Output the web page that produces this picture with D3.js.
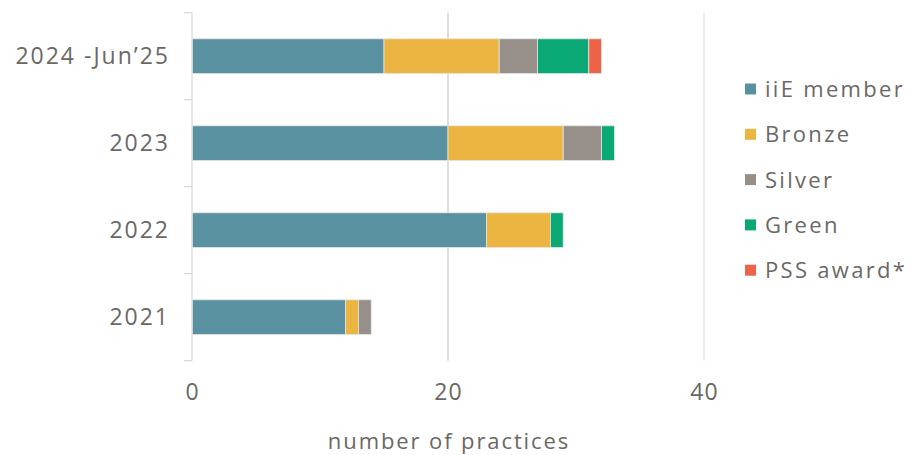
<!DOCTYPE html>
<html>
<head>
<meta charset="utf-8">
<script src="https://cdn.jsdelivr.net/npm/d3@7"></script>
<style>
  body { margin: 0; background: #fff; }
  #chart { width: 910px; height: 455px; }
  text { font-family: "Open Sans", sans-serif; fill: #6b6864; }
</style>
</head>
<body>
<div id="chart"></div>
<script>
(function () {
  var categories = ['2024 -Jun\u201925', '2023', '2022', '2021'];
  var seriesNames = ['iiE member', 'Bronze', 'Silver', 'Green', 'PSS award*'];
  var iieMember = [15, 20, 23, 12];
  var bronze = [9, 9, 5, 1];
  var silver = [3, 3, 0, 1];
  var green = [4, 1, 1, 0];
  var pssAward = [1, 0, 0, 0];
  var colors = ['#5a91a1', '#ecb441', '#978f89', '#0aa874', '#ed6347'];
  var xTicks = [0, 20, 40];

  var width = 910, height = 455;
  var left = 192, top = 12.7, plotBottom = 360.7;

  var rows = categories.map(function (c, i) {
    return { cat: c, 'iiE member': iieMember[i], 'Bronze': bronze[i], 'Silver': silver[i],
             'Green': green[i], 'PSS award*': pssAward[i] };
  });

  var stacked = d3.stack().keys(seriesNames)(rows);

  var svg = d3.select('#chart').append('svg')
        .attr('width', width)
        .attr('height', height);

  var x = d3.scaleLinear().domain([0, 40]).range([left, 704]);
  var y = d3.scaleBand().domain(categories).range([top, plotBottom])
        .paddingInner(0.6).paddingOuter(0.3);
  var color = d3.scaleOrdinal().domain(seriesNames).range(colors);

  // gridlines
  svg.append('g').selectAll('line')
    .data(xTicks.filter(function (d) { return d > 0; }))
    .enter().append('line')
    .attr('x1', x).attr('x2', x)
    .attr('y1', top).attr('y2', plotBottom)
    .attr('stroke', function (d) { return d === 20 ? '#d4d4d4' : '#e4e4e4'; })
    .attr('stroke-width', 1.5);

  // bars
  svg.append('g').selectAll('g')
    .data(stacked)
    .enter().append('g')
    .attr('fill', function (d) { return color(d.key); })
    .selectAll('rect')
    .data(function (d) { return d.filter(function (p) { return p[1] > p[0]; }); })
    .enter().append('rect')
    .attr('x', function (d) { return x(d[0]); })
    .attr('width', function (d) { return x(d[1]) - x(d[0]); })
    .attr('y', function (d) { return y(d.data.cat); })
    .attr('height', y.bandwidth())
    .attr('stroke', '#e6e6e6')
    .attr('stroke-width', 0.8);

  // y axis with ticks at band boundaries
  var yAxis = svg.append('g');
  yAxis.append('line')
    .attr('x1', left).attr('x2', left)
    .attr('y1', top).attr('y2', plotBottom)
    .attr('stroke', '#e0e0e0').attr('stroke-width', 1.5);
  var bounds = d3.range(categories.length + 1).map(function (i) {
    return top + i * y.step();
  });
  yAxis.selectAll('.tk').data(bounds).enter().append('line')
    .attr('class', 'tk')
    .attr('x1', left - 8).attr('x2', left)
    .attr('y1', function (d) { return d; }).attr('y2', function (d) { return d; })
    .attr('stroke', '#cfcfcf').attr('stroke-width', 1);
  yAxis.selectAll('text').data(categories).enter().append('text')
    .attr('x', 168 + 2)
    .attr('y', function (d) { return y(d) + y.bandwidth() / 2; })
    .attr('dy', '0.36em')
    .attr('text-anchor', 'end')
    .style('font-size', '23px')
    .style('letter-spacing', '2px')
    .text(function (d) { return d; });

  // x tick labels
  svg.append('g').selectAll('text').data(xTicks).enter().append('text')
    .attr('x', function (d) { return x(d) + 0.6; })
    .attr('y', 392)
    .attr('dy', '0.36em')
    .attr('text-anchor', 'middle')
    .style('font-size', '23px')
    .style('letter-spacing', '1.2px')
    .text(function (d) { return d; });

  svg.append('text')
    .attr('x', x(20) + 1)
    .attr('y', 441)
    .attr('text-anchor', 'middle')
    .attr('dy', '0.36em')
    .style('font-size', '22px')
    .style('letter-spacing', '1.9px')
    .text('number of practices');

  // legend
  var legend = svg.append('g').selectAll('g')
    .data(seriesNames)
    .enter().append('g')
    .attr('transform', function (d, i) { return 'translate(745,' + (89 + i * 45.3) + ')'; });
  legend.append('rect')
    .attr('x', 0).attr('y', -5.5)
    .attr('width', 11).attr('height', 11)
    .attr('fill', function (d) { return color(d); });
  legend.append('text')
    .attr('x', 20)
    .attr('dy', '0.36em')
    .style('font-size', '22px')
    .style('letter-spacing', '2.3px')
    .text(function (d) { return d; });
})();
</script>
</body>
</html>
